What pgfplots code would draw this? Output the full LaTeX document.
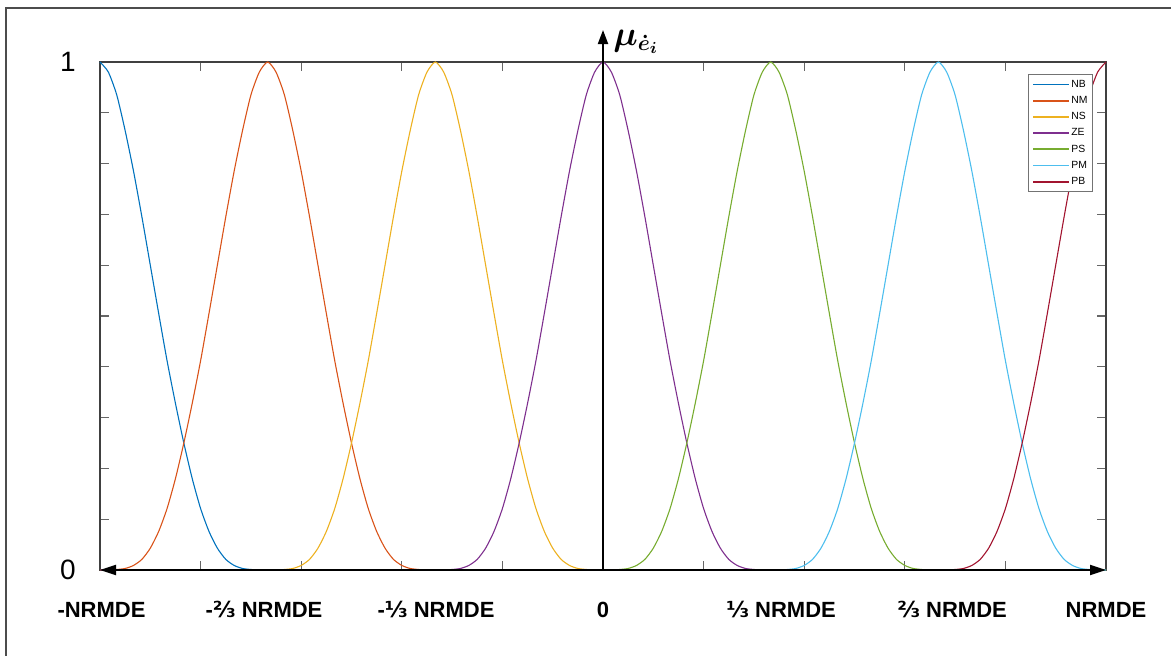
\documentclass[border=0pt]{standalone}
\usepackage{fontspec}
\setmainfont{Liberation Sans}
\newfontfamily\djv{DejaVu Sans}
\usepackage{bm}
\usepackage{pgfplots}
\usepackage{pgfplotstable}
\pgfplotsset{compat=1.18}
\usetikzlibrary{arrows.meta,calc}

% MATLAB default line colours
\definecolor{cNB}{rgb}{0,0.447,0.741}
\definecolor{cNM}{rgb}{0.850,0.325,0.098}
\definecolor{cNS}{rgb}{0.929,0.694,0.125}
\definecolor{cZE}{rgb}{0.494,0.184,0.556}
\definecolor{cPS}{rgb}{0.466,0.674,0.188}
\definecolor{cPM}{rgb}{0.301,0.745,0.933}
\definecolor{cPB}{rgb}{0.635,0.078,0.184}

\newcommand{\fr}[1]{{\djv\bfseries #1}}

% membership values, x in units of NRMDE
\pgfplotstableread{
x NB NM NS ZE PS PM PB
-1.00000 1.000 0.000 0 0 0 0 0
-0.98333 0.980 0.000 0 0 0 0 0
-0.96667 0.935 0.001 0 0 0 0 0
-0.95000 0.865 0.003 0 0 0 0 0
-0.93333 0.785 0.009 0 0 0 0 0
-0.91667 0.695 0.021 0 0 0 0 0
-0.90000 0.600 0.043 0 0 0 0 0
-0.88333 0.505 0.076 0 0 0 0 0
-0.86667 0.412 0.121 0 0 0 0 0
-0.85000 0.328 0.180 0 0 0 0 0
-0.83333 0.250 0.250 0 0 0 0 0
-0.81667 0.180 0.328 0 0 0 0 0
-0.80000 0.121 0.412 0 0 0 0 0
-0.78333 0.076 0.505 0 0 0 0 0
-0.76667 0.043 0.600 0 0 0 0 0
-0.75000 0.021 0.695 0 0 0 0 0
-0.73333 0.009 0.785 0 0 0 0 0
-0.71667 0.003 0.865 0 0 0 0 0
-0.70000 0.001 0.935 0 0 0 0 0
-0.68333 0.000 0.980 0 0 0 0 0
-0.66667 0 1.000 0.000 0 0 0 0
-0.65000 0 0.980 0.000 0 0 0 0
-0.63333 0 0.935 0.001 0 0 0 0
-0.61667 0 0.865 0.003 0 0 0 0
-0.60000 0 0.785 0.009 0 0 0 0
-0.58333 0 0.695 0.021 0 0 0 0
-0.56667 0 0.600 0.043 0 0 0 0
-0.55000 0 0.505 0.076 0 0 0 0
-0.53333 0 0.412 0.121 0 0 0 0
-0.51667 0 0.328 0.180 0 0 0 0
-0.50000 0 0.250 0.250 0 0 0 0
-0.48333 0 0.180 0.328 0 0 0 0
-0.46667 0 0.121 0.412 0 0 0 0
-0.45000 0 0.076 0.505 0 0 0 0
-0.43333 0 0.043 0.600 0 0 0 0
-0.41667 0 0.021 0.695 0 0 0 0
-0.40000 0 0.009 0.785 0 0 0 0
-0.38333 0 0.003 0.865 0 0 0 0
-0.36667 0 0.001 0.935 0 0 0 0
-0.35000 0 0.000 0.980 0 0 0 0
-0.33333 0 0 1.000 0.000 0 0 0
-0.31667 0 0 0.980 0.000 0 0 0
-0.30000 0 0 0.935 0.001 0 0 0
-0.28333 0 0 0.865 0.003 0 0 0
-0.26667 0 0 0.785 0.009 0 0 0
-0.25000 0 0 0.695 0.021 0 0 0
-0.23333 0 0 0.600 0.043 0 0 0
-0.21667 0 0 0.505 0.076 0 0 0
-0.20000 0 0 0.412 0.121 0 0 0
-0.18333 0 0 0.328 0.180 0 0 0
-0.16667 0 0 0.250 0.250 0 0 0
-0.15000 0 0 0.180 0.328 0 0 0
-0.13333 0 0 0.121 0.412 0 0 0
-0.11667 0 0 0.076 0.505 0 0 0
-0.10000 0 0 0.043 0.600 0 0 0
-0.08333 0 0 0.021 0.695 0 0 0
-0.06667 0 0 0.009 0.785 0 0 0
-0.05000 0 0 0.003 0.865 0 0 0
-0.03333 0 0 0.001 0.935 0 0 0
-0.01667 0 0 0.000 0.980 0 0 0
0.00000 0 0 0 1.000 0.000 0 0
0.01667 0 0 0 0.980 0.000 0 0
0.03333 0 0 0 0.935 0.001 0 0
0.05000 0 0 0 0.865 0.003 0 0
0.06667 0 0 0 0.785 0.009 0 0
0.08333 0 0 0 0.695 0.021 0 0
0.10000 0 0 0 0.600 0.043 0 0
0.11667 0 0 0 0.505 0.076 0 0
0.13333 0 0 0 0.412 0.121 0 0
0.15000 0 0 0 0.328 0.180 0 0
0.16667 0 0 0 0.250 0.250 0 0
0.18333 0 0 0 0.180 0.328 0 0
0.20000 0 0 0 0.121 0.412 0 0
0.21667 0 0 0 0.076 0.505 0 0
0.23333 0 0 0 0.043 0.600 0 0
0.25000 0 0 0 0.021 0.695 0 0
0.26667 0 0 0 0.009 0.785 0 0
0.28333 0 0 0 0.003 0.865 0 0
0.30000 0 0 0 0.001 0.935 0 0
0.31667 0 0 0 0.000 0.980 0 0
0.33333 0 0 0 0 1.000 0.000 0
0.35000 0 0 0 0 0.980 0.000 0
0.36667 0 0 0 0 0.935 0.001 0
0.38333 0 0 0 0 0.865 0.003 0
0.40000 0 0 0 0 0.785 0.009 0
0.41667 0 0 0 0 0.695 0.021 0
0.43333 0 0 0 0 0.600 0.043 0
0.45000 0 0 0 0 0.505 0.076 0
0.46667 0 0 0 0 0.412 0.121 0
0.48333 0 0 0 0 0.328 0.180 0
0.50000 0 0 0 0 0.250 0.250 0
0.51667 0 0 0 0 0.180 0.328 0
0.53333 0 0 0 0 0.121 0.412 0
0.55000 0 0 0 0 0.076 0.505 0
0.56667 0 0 0 0 0.043 0.600 0
0.58333 0 0 0 0 0.021 0.695 0
0.60000 0 0 0 0 0.009 0.785 0
0.61667 0 0 0 0 0.003 0.865 0
0.63333 0 0 0 0 0.001 0.935 0
0.65000 0 0 0 0 0.000 0.980 0
0.66667 0 0 0 0 0 1.000 0.000
0.68333 0 0 0 0 0 0.980 0.000
0.70000 0 0 0 0 0 0.935 0.001
0.71667 0 0 0 0 0 0.865 0.003
0.73333 0 0 0 0 0 0.785 0.009
0.75000 0 0 0 0 0 0.695 0.021
0.76667 0 0 0 0 0 0.600 0.043
0.78333 0 0 0 0 0 0.505 0.076
0.80000 0 0 0 0 0 0.412 0.121
0.81667 0 0 0 0 0 0.328 0.180
0.83333 0 0 0 0 0 0.250 0.250
0.85000 0 0 0 0 0 0.180 0.328
0.86667 0 0 0 0 0 0.121 0.412
0.88333 0 0 0 0 0 0.076 0.505
0.90000 0 0 0 0 0 0.043 0.600
0.91667 0 0 0 0 0 0.021 0.695
0.93333 0 0 0 0 0 0.009 0.785
0.95000 0 0 0 0 0 0.003 0.865
0.96667 0 0 0 0 0 0.001 0.935
0.98333 0 0 0 0 0 0.000 0.980
1.00000 0 0 0 0 0 0.000 1.000
}\mf

\begin{document}
\begin{tikzpicture}
\begin{axis}[
  scale only axis, width=503pt, height=254pt,
  xmin=-1, xmax=1, ymin=0, ymax=1,
  clip=false,
  axis line style={draw=black!75, line width=0.7pt},
  tick style={draw=black!60, line width=0.6pt},
  tick align=inside, xtick pos=both, ytick pos=both,
  major tick length=4.5pt,
  xtick={-1,-0.8,-0.6,-0.4,-0.2,0,0.2,0.4,0.6,0.8,1},
  xticklabels={},
  ytick={0,0.1,0.2,0.3,0.4,0.5,0.6,0.7,0.8,0.9,1},
  yticklabels={0,,,,,,,,,,1},
  yticklabel style={font=\fontsize{14}{14}\selectfont, anchor=east, inner sep=0pt, xshift=-12pt},
  extra x ticks={-0.997,-0.674,-0.332,0,0.354,0.694,1.0},
  extra x tick labels={-NRMDE, -\fr{⅔} NRMDE, -\fr{⅓} NRMDE, 0, \fr{⅓} NRMDE, \fr{⅔} NRMDE, NRMDE},
  extra x tick style={major tick length=0pt,
    xticklabel style={font=\fontsize{11}{11}\selectfont\bfseries, anchor=north, inner sep=0pt,
      text height=8pt, text depth=2pt, yshift=-15.7pt}},
  legend style={at={(rel axis cs:1,1)}, anchor=north east, xshift=-6.5pt, yshift=-6pt,
    draw=black!55, line width=0.5pt, fill=white,
    font=\fontsize{5.2}{5.5}\selectfont, inner xsep=2pt, inner ysep=2.2pt, row sep=2.6pt,
    nodes={inner sep=0.5pt, text height=3.7pt, text depth=0.8pt},
    cells={anchor=west}},
  legend image code/.code={\draw[#1, line width=0.9pt] (0pt,0pt) -- (18pt,0pt);},
  every axis plot/.append style={line width=0.55pt, smooth, tension=0.4},
]
\addplot[cNB] table[x=x, y=NB] {\mf};
\addplot[cNM] table[x=x, y=NM] {\mf};
\addplot[cNS] table[x=x, y=NS] {\mf};
\addplot[cZE] table[x=x, y=ZE] {\mf};
\addplot[cPS] table[x=x, y=PS] {\mf};
\addplot[cPM] table[x=x, y=PM] {\mf};
\addplot[cPB] table[x=x, y=PB] {\mf};
\legend{NB,NM,NS,ZE,PS,PM,PB}

% axes through the origin
\draw[black, line width=1pt, {Triangle[length=8pt,width=5pt]}-{Triangle[length=8pt,width=5pt]}]
  (axis cs:-1,0) -- (axis cs:1,0);
\draw[black, line width=1pt, -{Triangle[length=7pt,width=5pt]}]
  (axis cs:0,0) -- ([yshift=16pt]axis cs:0,1);
\node[anchor=base west, inner sep=0pt] at ([xshift=5pt,yshift=8.5pt]axis cs:0,1)
  {\fontsize{16}{16}\selectfont$\bm{\mu_{\dot{e}_i}}$};
\end{axis}

\pgfresetboundingbox
\path[use as bounding box] ($(current axis.south west)+(-50pt,-42.5pt)$)
  rectangle ($(current axis.north east)+(32.5pt,31pt)$);
\draw[black!70, line width=0.6pt] ($(current axis.south west)+(-47pt,-60pt)$)
  -- ($(current axis.north west)+(-47pt,27pt)$) -- ($(current axis.north east)+(60pt,27pt)$);
\end{tikzpicture}
\end{document}
